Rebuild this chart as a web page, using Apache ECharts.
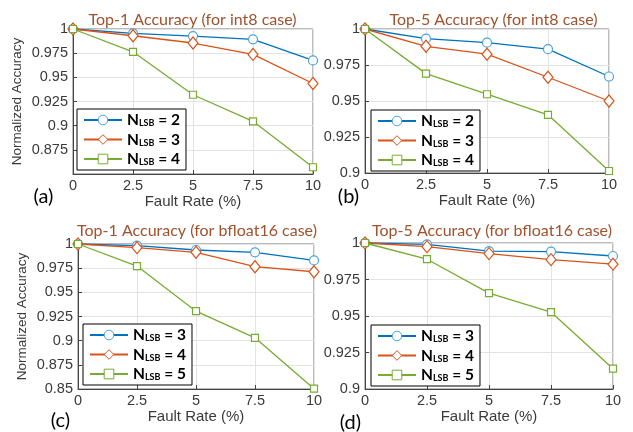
<!DOCTYPE html>
<html>
<head>
<meta charset="utf-8">
<script src="https://cdn.jsdelivr.net/npm/echarts@6/dist/echarts.min.js"></script>
<style>
html,body{margin:0;padding:0;background:#fff;}
#chart{width:633px;height:432px;}
</style>
</head>
<body>
<div id="chart"></div>
<script>
// Fault rate (%) on x axis
const faultRate = [0, 2.5, 5, 7.5, 10];

// (a) Top-1 accuracy, int8
const aN2 = [1, 0.9955, 0.9927, 0.9893, 0.9675];
const aN3 = [1, 0.9930, 0.9855, 0.9737, 0.9436];
const aN4 = [1, 0.9764, 0.9320, 0.9045, 0.8570];
// (b) Top-5 accuracy, int8
const bN2 = [1, 0.9933, 0.9905, 0.9860, 0.9670];
const bN3 = [1, 0.9880, 0.9825, 0.9665, 0.9500];
const bN4 = [1, 0.9690, 0.9547, 0.9404, 0.9014];
// (c) Top-1 accuracy, bfloat16
const cN3 = [1, 0.9983, 0.9938, 0.9914, 0.9830];
const cN4 = [1, 0.9962, 0.9914, 0.9765, 0.9713];
const cN5 = [1, 0.9772, 0.9305, 0.9029, 0.8503];
// (d) Top-5 accuracy, bfloat16
const dN3 = [1, 0.9991, 0.9945, 0.9941, 0.9911];
const dN4 = [1, 0.9975, 0.9927, 0.9886, 0.9855];
const dN5 = [1, 0.9889, 0.9657, 0.9527, 0.9139];

const titles = ['Top-1 Accuracy (for int8 case)', 'Top-5 Accuracy (for int8 case)',
                'Top-1 Accuracy (for bfloat16 case)', 'Top-5 Accuracy (for bfloat16 case)'];
const panelLabels = ['(a)', '(b)', '(c)', '(d)'];
const xName = 'Fault Rate (%)';
const yName = 'Normalized Accuracy';
const nlsbA = [2, 3, 4];
const nlsbC = [3, 4, 5];
const yMins = [0.85, 0.9, 0.85, 0.9];

const panels = [
  {data: [aN2, aN3, aN4], n: nlsbA, grid: {left: 73, top: 29, width: 240, height: 145}, legend: {left: 77, top: 109}, yName: true, showMin: false,
   title: [192.5, 19.5], lab: [43.5, 197]},
  {data: [bN2, bN3, bN4], n: nlsbA, grid: {left: 365, top: 29, width: 244, height: 144}, legend: {left: 371, top: 110}, yName: false, showMin: true,
   title: [493.5, 19.5], lab: [348.5, 197]},
  {data: [cN3, cN4, cN5], n: nlsbC, grid: {left: 78, top: 244, width: 236, height: 145}, legend: {left: 83, top: 324}, yName: true, showMin: true,
   title: [197, 231], lab: [60.5, 421]},
  {data: [dN3, dN4, dN5], n: nlsbC, grid: {left: 365, top: 243, width: 248, height: 146}, legend: {left: 371, top: 325}, yName: false, showMin: true,
   title: [492, 230.5], lab: [350.5, 423]}
];

const lineColors = ['#0072BD', '#D95319', '#77AC30'];
const markColors = ['#4DA3DD', '#D95319', '#77AC30'];
const symbols = ['circle', 'diamond', 'rect'];
const symSizes = [9, [10, 12], 7];

const grids = [], xAxes = [], yAxes = [], series = [], legends = [], graphics = [];
const tickFont = {fontFamily: 'Liberation Sans', fontSize: 14.5, color: '#3a3a3a'};

panels.forEach((p, i) => {
  grids.push(Object.assign({show: true, borderColor: '#777', borderWidth: 1, backgroundColor: 'transparent'}, p.grid));
  xAxes.push({
    type: 'value', gridIndex: i, min: 0, max: 10, interval: 2.5,
    name: xName, nameLocation: 'middle', nameGap: 18,
    nameTextStyle: {fontFamily: 'Liberation Sans', fontSize: 15, color: '#3a3a3a'},
    axisLine: {show: true, lineStyle: {color: '#444', width: 1}},
    axisTick: {show: true, inside: true, length: 4, lineStyle: {color: '#444'}},
    axisLabel: Object.assign({margin: 4, formatter: v => String(v)}, tickFont),
    splitLine: {show: true, lineStyle: {color: '#e3e3e3', width: 1}}
  });
  yAxes.push({
    type: 'value', gridIndex: i, min: yMins[i], max: 1, interval: 0.025,
    name: p.yName ? yName : '', nameLocation: 'middle', nameGap: 49,
    nameTextStyle: {fontFamily: 'Liberation Sans', fontSize: 13.5, color: '#3a3a3a'},
    axisLine: {show: true, lineStyle: {color: '#444', width: 1}},
    axisTick: {show: true, inside: true, length: 4, lineStyle: {color: '#444'}},
    axisLabel: Object.assign({margin: 5, showMinLabel: p.showMin, formatter: v => String(parseFloat(v.toFixed(3)))}, tickFont),
    splitLine: {show: true, lineStyle: {color: '#e3e3e3', width: 1}}
  });
  const names = [];
  p.data.forEach((arr, k) => {
    const name = panelLabels[i] + '|' + p.n[k];
    names.push(name);
    series.push({
      type: 'line', name: name, xAxisIndex: i, yAxisIndex: i,
      data: faultRate.map((x, j) => [x, arr[j]]),
      symbol: symbols[k], symbolSize: symSizes[k], showAllSymbol: true, clip: false,
      lineStyle: {color: lineColors[k], width: 1.3},
      itemStyle: {color: '#fff', borderColor: markColors[k], borderWidth: 1.2, opacity: 1},
      z: 2 + k
    });
  });
  legends.push({
    data: names, orient: 'vertical', left: p.legend.left, top: p.legend.top,
    backgroundColor: '#fff', borderColor: '#000', borderWidth: 1,
    padding: [3, 6, 3, 6], itemGap: 3.5, itemWidth: 38, itemHeight: 12,
    itemStyle: {borderWidth: 1},
    selectedMode: false,
    formatter: nm => '{n|N}{s|LSB}{n| = ' + nm.split('|')[1] + '}',
    textStyle: {
      rich: {
        n: {fontFamily: 'Lato', fontWeight: 'bold', fontSize: 15.5, lineHeight: 16, color: '#000', verticalAlign: 'bottom'},
        s: {fontFamily: 'Lato', fontWeight: 'bold', fontSize: 9, lineHeight: 9, color: '#000', verticalAlign: 'bottom'}
      }
    }
  });
  graphics.push({
    type: 'text', x: p.title[0], y: p.title[1],
    style: {text: titles[i], fill: '#A0522D', font: '16px Lato', textAlign: 'center', textVerticalAlign: 'middle'}
  });
  graphics.push({
    type: 'text', x: p.lab[0], y: p.lab[1],
    style: {text: panelLabels[i], fill: '#000', font: '20px Lato', textAlign: 'center', textVerticalAlign: 'middle'}
  });
});

const chart = echarts.init(document.getElementById('chart'), null, {renderer: 'canvas'});
chart.setOption({
  animation: false,
  backgroundColor: '#fff',
  grid: grids, xAxis: xAxes, yAxis: yAxes, series: series, legend: legends, graphic: graphics
});
</script>
</body>
</html>
